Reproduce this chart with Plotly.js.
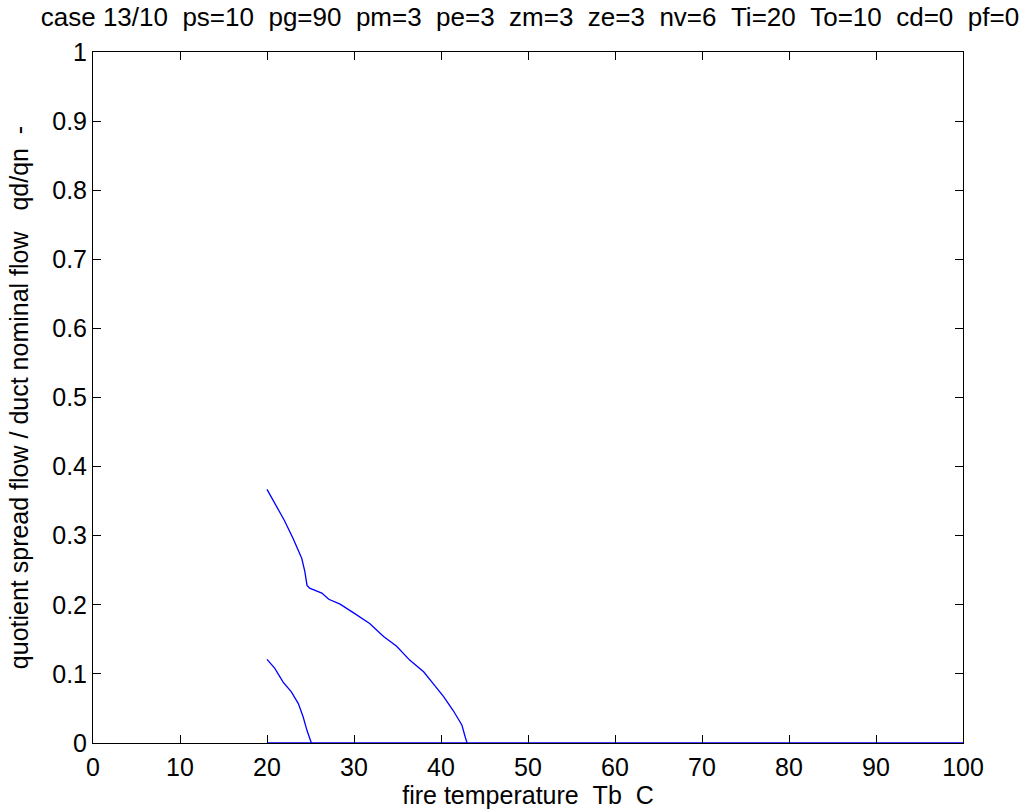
<!DOCTYPE html>
<html>
<head>
<meta charset="utf-8">
<script src="https://cdn.plot.ly/plotly-3.0.1.min.js"></script>
<style>html,body{margin:0;padding:0;background:#fff;}#chart{width:1031px;height:812px;}</style>
</head>
<body>
<div id="chart"></div>
<script>
// Upper curve
const upperT = [20, 20.9, 22.0, 23.0, 24.0, 24.35, 24.6, 24.9, 25.3, 26.3, 27.1, 28.4, 30.0, 31.8, 33.4, 34.9, 36.4, 38.0, 39.1, 40.3, 41.4, 42.4, 42.8, 43.0];
const upperQ = [0.367, 0.347, 0.322, 0.296, 0.267, 0.248, 0.228, 0.224, 0.222, 0.217, 0.208, 0.201, 0.188, 0.173, 0.154, 0.140, 0.120, 0.103, 0.086, 0.067, 0.047, 0.026, 0.008, 0];
// Lower curve
const lowerT = [20, 20.9, 21.85, 22.8, 23.6, 24.15, 24.6, 25.1];
const lowerQ = [0.121, 0.108, 0.088, 0.074, 0.057, 0.038, 0.018, 0];
// Zero line
const zeroT = [20, 100];
const zeroQ = [0, 0];

const xTicks = [0, 10, 20, 30, 40, 50, 60, 70, 80, 90, 100];
const yTicks = [0, 0.1, 0.2, 0.3, 0.4, 0.5, 0.6, 0.7, 0.8, 0.9, 1];

const titleText = "case 13/10&nbsp;&nbsp;ps=10&nbsp;&nbsp;pg=90&nbsp;&nbsp;pm=3&nbsp;&nbsp;pe=3&nbsp;&nbsp;zm=3&nbsp;&nbsp;ze=3&nbsp;&nbsp;nv=6&nbsp;&nbsp;Ti=20&nbsp;&nbsp;To=10&nbsp;&nbsp;cd=0&nbsp;&nbsp;pf=0";
const xTitle = "fire temperature&nbsp;&nbsp;Tb&nbsp;&nbsp;C";
const yTitle = "quotient spread flow / duct nominal flow&nbsp;&nbsp;&nbsp;qd/qn&nbsp;&nbsp;-";

const lineStyle = {color: '#0000ff', width: 1.3};
const traces = [
  {x: zeroT, y: zeroQ, mode: 'lines', line: lineStyle, hoverinfo: 'skip'},
  {x: upperT, y: upperQ, mode: 'lines', line: lineStyle},
  {x: lowerT, y: lowerQ, mode: 'lines', line: lineStyle}
];

const fnt = {family: 'Liberation Sans, Arial, sans-serif', size: 25, color: '#000'};
const axisCommon = {
  showgrid: false, zeroline: false, showline: true, mirror: 'ticks',
  linecolor: '#000', linewidth: 1, ticks: 'inside', ticklen: 8, tickwidth: 1, tickcolor: '#000',
  tickfont: fnt
};
const layout = {
  width: 1031, height: 812,
  margin: {l: 93, r: 68, t: 52, b: 69},
  paper_bgcolor: '#fff', plot_bgcolor: '#fff',
  showlegend: false,
  font: fnt,
  title: {text: titleText, font: Object.assign({}, fnt, {size: 26}), x: 0.514, xanchor: 'center', xref: 'container', yref: 'container', y: 0.979, yanchor: 'middle'},
  xaxis: Object.assign({}, axisCommon, {range: [0, 100], tickvals: xTicks, ticktext: xTicks.map(String),
    ticklabelstandoff: 2,
    title: {text: xTitle, font: fnt, standoff: 5}}),
  yaxis: Object.assign({}, axisCommon, {range: [0, 1], tickvals: yTicks, ticktext: yTicks.map(String),
    ticklabelstandoff: 0,
    title: {text: yTitle, font: fnt, standoff: 16}})
};
Plotly.newPlot('chart', traces, layout, {displayModeBar: false, staticPlot: true});
</script>
</body>
</html>
